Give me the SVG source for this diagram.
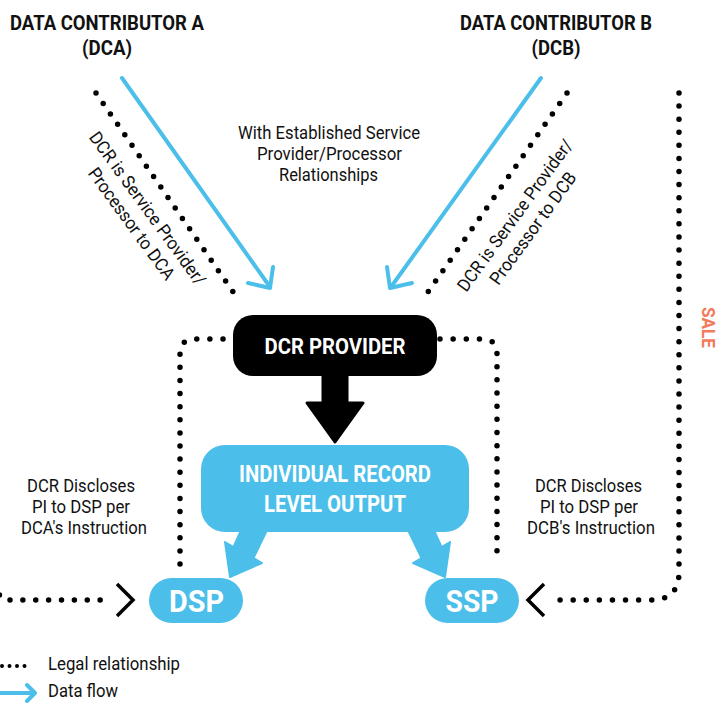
<svg xmlns="http://www.w3.org/2000/svg" width="719" height="703" viewBox="0 0 719 703">
  <style>
    text { font-family: "Roboto", "Liberation Sans", sans-serif; }
    .title { font-size: 21px; font-weight: 700; fill: #111; text-anchor: middle; }
    .label { font-size: 18px; font-weight: 400; fill: #111; text-anchor: middle; }
    .legend { font-size: 18px; font-weight: 400; fill: #111; }
    .white { fill: #fff; font-weight: 700; text-anchor: middle; }
    .sale { font-size: 19px; font-weight: 700; fill: #F37A5A; text-anchor: middle; }
    .dots { fill: none; stroke: #000; stroke-width: 5.5; stroke-linecap: round; stroke-dasharray: 0 1; }
    .flow { fill: none; stroke: #4BBFEA; stroke-width: 4; stroke-linecap: round; stroke-linejoin: round; }
    .chev { fill: none; stroke: #000; stroke-width: 3.5; stroke-linejoin: miter; }
    .blue { fill: #4BBFEA; }
  </style>

  <!-- headings -->
  <g id="dca">
    <text class="title" x="107" y="29.5" textLength="194" lengthAdjust="spacingAndGlyphs">DATA CONTRIBUTOR A</text>
    <text class="title" x="107" y="55" textLength="50" lengthAdjust="spacingAndGlyphs">(DCA)</text>
  </g>
  <g id="dcb">
    <text class="title" x="556" y="29.5" textLength="192" lengthAdjust="spacingAndGlyphs">DATA CONTRIBUTOR B</text>
    <text class="title" x="556" y="55" textLength="49" lengthAdjust="spacingAndGlyphs">(DCB)</text>
  </g>

  <!-- connectors -->
  <g id="connectors">
    <!-- legal relationships (dotted) -->
    <path class="dots" d="M96,93 L240,302" pathLength="20"/>
    <path class="dots" d="M567,93 L421,302" pathLength="20"/>
    <path class="dots" d="M223,339 H195 Q180,339 180,354 V564" pathLength="20"/>
    <path class="dots" d="M440,339 H482 Q497,339 497,354 V564" pathLength="21"/>
    <path class="dots" d="M679,93 V572 Q679,600 651,600 H547" pathLength="48"/>
    <path class="dots" d="M10,600 H113" pathLength="8"/>
    <circle cx="-0.5" cy="595" r="2.75" fill="#000"/>
    <path class="chev" d="M117,584 L133,600 L117,616"/>
    <path class="chev" d="M544,584 L528,600 L544,616"/>

    <!-- data flows into the provider -->
    <path class="flow" d="M122,78 L270,287"/>
    <path class="flow" d="M248,283 L270,288 L273,267"/>
    <path class="flow" d="M541,78 L391,287"/>
    <path class="flow" d="M412,283 L390,288 L387,267"/>

    <!-- provider to output -->
    <path d="M323,374 H347 V403 H363 L335,442 L307,403 H323 Z" fill="#000" stroke="#000" stroke-width="3" stroke-linejoin="round"/>

    <!-- output to DSP / SSP -->
    <path class="blue" d="M242,528 H268 L253.5,558 L262,563 L230,577 L225,542 L233.5,547 Z" stroke="#4BBFEA" stroke-width="2" stroke-linejoin="round"/>
    <path class="blue" d="M433,528 H407 L421.5,558 L413,563 L445,577 L450,542 L441.5,547 Z" stroke="#4BBFEA" stroke-width="2" stroke-linejoin="round"/>
  </g>

  <!-- connector labels -->
  <g id="label-established">
    <text class="label" x="329" y="138.5" textLength="182" lengthAdjust="spacingAndGlyphs">With Established Service</text>
    <text class="label" x="329.5" y="159.5" textLength="145" lengthAdjust="spacingAndGlyphs">Provider/Processor</text>
    <text class="label" x="328.5" y="180.5" textLength="99" lengthAdjust="spacingAndGlyphs">Relationships</text>
  </g>
  <g id="label-dca" transform="translate(142.6,212) rotate(54)">
    <text class="label" x="0" y="0" textLength="185" lengthAdjust="spacingAndGlyphs">DCR is Service Provider/</text>
    <text class="label" x="3" y="22" textLength="134" lengthAdjust="spacingAndGlyphs">Processor to DCA</text>
  </g>
  <g id="label-dcb" transform="translate(520,219) rotate(-54)">
    <text class="label" x="0" y="0" textLength="183" lengthAdjust="spacingAndGlyphs">DCR is Service Provider/</text>
    <text class="label" x="0" y="22" textLength="134" lengthAdjust="spacingAndGlyphs">Processor to DCB</text>
  </g>
  <g id="label-dsp">
    <text class="label" x="81" y="492" textLength="108" lengthAdjust="spacingAndGlyphs">DCR Discloses</text>
    <text class="label" x="81" y="513" textLength="98" lengthAdjust="spacingAndGlyphs">PI to DSP per</text>
    <text class="label" x="84" y="534" textLength="126" lengthAdjust="spacingAndGlyphs">DCA's Instruction</text>
  </g>
  <g id="label-ssp">
    <text class="label" x="588.5" y="492" textLength="107" lengthAdjust="spacingAndGlyphs">DCR Discloses</text>
    <text class="label" x="589" y="513" textLength="98" lengthAdjust="spacingAndGlyphs">PI to DSP per</text>
    <text class="label" x="591" y="534" textLength="128" lengthAdjust="spacingAndGlyphs">DCB's Instruction</text>
  </g>
  <g id="label-sale">
    <text class="sale" transform="translate(701.5,327.5) rotate(90)" textLength="41" lengthAdjust="spacingAndGlyphs">SALE</text>
  </g>

  <!-- nodes -->
  <g id="dcr-provider">
    <rect x="233" y="315" width="204" height="61" rx="20" fill="#000"/>
    <text class="white" x="335" y="354" font-size="22" textLength="141" lengthAdjust="spacingAndGlyphs">DCR PROVIDER</text>
  </g>
  <g id="record-output">
    <rect class="blue" x="201" y="445" width="268" height="87" rx="24"/>
    <text class="white" x="335" y="482" font-size="23" textLength="192" lengthAdjust="spacingAndGlyphs">INDIVIDUAL RECORD</text>
    <text class="white" x="335" y="512" font-size="23" textLength="142" lengthAdjust="spacingAndGlyphs">LEVEL OUTPUT</text>
  </g>
  <g id="dsp">
    <rect class="blue" x="149" y="578" width="94" height="45" rx="22.5"/>
    <text class="white" x="196.5" y="612" font-size="32" textLength="55" lengthAdjust="spacingAndGlyphs">DSP</text>
  </g>
  <g id="ssp">
    <rect class="blue" x="425" y="578" width="94" height="45" rx="22.5"/>
    <text class="white" x="472" y="612" font-size="32" textLength="53" lengthAdjust="spacingAndGlyphs">SSP</text>
  </g>

  <!-- legend -->
  <g id="legend">
    <path d="M2,666 H32" fill="none" stroke="#000" stroke-width="4" stroke-linecap="round" stroke-dasharray="0 1" pathLength="4"/>
    <text class="legend" x="48" y="670" textLength="132" lengthAdjust="spacingAndGlyphs">Legal relationship</text>
    <path class="flow" d="M0,693 H34"/>
    <path class="flow" d="M27,685 L35,693 L27,701"/>
    <text class="legend" x="48" y="697" textLength="70" lengthAdjust="spacingAndGlyphs">Data flow</text>
  </g>
</svg>
